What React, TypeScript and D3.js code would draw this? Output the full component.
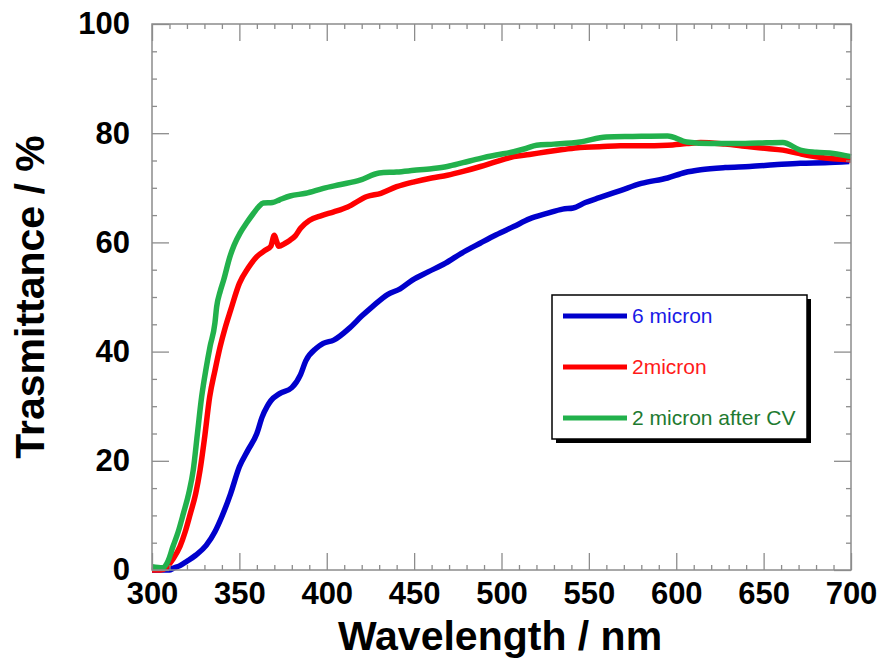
import React, { useRef, useLayoutEffect } from "react";
import * as d3 from "d3";

// wavelength (nm) / transmittance (%)
const wl6 = [300, 305, 310, 312, 316, 320, 325, 331, 336, 340, 345, 350, 355, 360, 363, 366, 368, 373, 380, 385, 388, 394, 398, 404, 413, 420, 426, 435, 442, 449, 458, 468, 477, 488, 497, 507, 516, 526, 535, 541, 548, 556, 568, 580, 595, 605, 614, 628, 642, 656, 671, 685, 699];
const t6 = [0, 0, 0, 0.3, 0.8, 1.6, 2.7, 4.5, 7, 9.8, 14, 18.9, 22, 25, 28, 30, 31, 32.3, 33.4, 35.8, 38.3, 40.6, 41.5, 42.1, 44.3, 46.5, 48.2, 50.5, 51.5, 53.1, 54.6, 56.2, 58, 59.9, 61.4, 62.9, 64.3, 65.3, 66.1, 66.3, 67.3, 68.2, 69.5, 70.8, 71.8, 72.8, 73.3, 73.7, 73.9, 74.2, 74.5, 74.6, 74.8];

const wl2 = [300, 305, 308, 312, 316, 319, 322, 325, 327.5, 330, 333, 336, 339, 342, 345, 350, 355, 360, 365, 368, 370, 371, 372.5, 376, 379, 382, 385, 390, 397, 404, 412, 423, 431, 440, 450, 460, 469, 478, 488, 497, 507, 516, 526, 535, 545, 556, 568, 580, 595, 606, 614, 628, 642, 652, 661, 670, 680, 690, 700];
const t2 = [0, 0, 0.4, 2, 4.3, 7, 10.4, 14, 18.3, 24, 31.7, 36.5, 40.9, 44.5, 47.6, 52.5, 55.3, 57.4, 58.6, 59.3, 61.3, 60.5, 59.3, 59.8, 60.4, 61.2, 62.6, 64, 64.9, 65.6, 66.5, 68.4, 69, 70.2, 71.1, 71.8, 72.3, 73, 73.9, 74.8, 75.7, 76.1, 76.6, 77, 77.4, 77.5, 77.7, 77.7, 77.8, 78.1, 78.3, 78, 77.5, 77.2, 76.9, 76.3, 75.7, 75.3, 75.1];

const wlCV = [300, 306, 309, 312, 315, 318, 321, 323.6, 326, 328.4, 331, 333.2, 336, 337, 339, 341, 344.6, 347, 350.4, 354, 358, 361, 363.7, 369, 373, 379, 388, 398, 408, 419, 430, 440, 450, 460, 469, 478, 488, 497, 507, 514, 520, 530, 545, 560, 575, 595, 606, 620, 633, 647, 661, 671, 680, 690, 700];
const tCV = [0.6, 0.4, 1.5, 4.3, 7, 10.4, 14, 18.3, 25, 31.7, 37, 40.9, 45.2, 48.2, 51, 53.1, 57.4, 59.5, 61.7, 63.5, 65.3, 66.5, 67.2, 67.3, 67.8, 68.5, 69, 69.9, 70.6, 71.4, 72.7, 72.9, 73.2, 73.5, 73.9, 74.6, 75.4, 76, 76.6, 77.2, 77.8, 78, 78.4, 79.3, 79.4, 79.5, 78.4, 78.1, 78.1, 78.2, 78.3, 76.9, 76.5, 76.3, 75.7];

const seriesNames = ["6 micron", "2micron", "2 micron after CV"];
const seriesColors = ["#0000cc", "#ff0000", "#22b14c"];
const textColors = ["#1a1ae6", "#ff1a1a", "#1e7a30"];

const xTicks = [300, 350, 400, 450, 500, 550, 600, 650, 700];
const yTicks = [0, 20, 40, 60, 80, 100];

const W = 877, H = 665;
const left = 152, right = 851, top = 24, bottom = 570;

const App = () => {
  const axesEl = useRef(null);
  const linesEl = useRef(null);
  const legendEl = useRef(null);

  const x = d3.scaleLinear().domain([300, 700]).range([left, right]);
  const y = d3.scaleLinear().domain([0, 100]).range([bottom, top]);

  useLayoutEffect(() => {
    const g = d3.select(axesEl.current);
    g.selectAll("*").remove();
    const gray = "#8c8c8c";
    const minorX = d3.range(300, 701, 10).filter((v) => v % 50 !== 0);
    const minorY = d3.range(0, 101, 5).filter((v) => v % 20 !== 0);

    const styleAxis = (sel) => {
      sel.select(".domain").remove();
      sel.selectAll("line").attr("stroke", gray).attr("stroke-width", 1.3);
      sel.selectAll("text")
        .attr("fill", "#000")
        .attr("font-family", "Liberation Sans, Arial, sans-serif")
        .attr("font-weight", "bold")
        .attr("font-size", 31);
    };

    // bottom
    g.append("g").attr("transform", `translate(0,${bottom})`)
      .call(d3.axisBottom(x).tickValues(xTicks).tickSize(-17).tickPadding(12).tickFormat(d3.format("d")))
      .call(styleAxis);
    g.append("g").attr("transform", `translate(0,${bottom})`)
      .call(d3.axisBottom(x).tickValues(minorX).tickSize(-5).tickFormat(() => ""))
      .call(styleAxis);
    // top
    g.append("g").attr("transform", `translate(0,${top})`)
      .call(d3.axisTop(x).tickValues(xTicks).tickSize(-17).tickFormat(() => ""))
      .call(styleAxis);
    g.append("g").attr("transform", `translate(0,${top})`)
      .call(d3.axisTop(x).tickValues(minorX).tickSize(-5).tickFormat(() => ""))
      .call(styleAxis);
    // left
    g.append("g").attr("transform", `translate(${left},0)`)
      .call(d3.axisLeft(y).tickValues(yTicks).tickSize(-17).tickPadding(22).tickFormat(d3.format("d")))
      .call(styleAxis);
    g.append("g").attr("transform", `translate(${left},0)`)
      .call(d3.axisLeft(y).tickValues(minorY).tickSize(-5).tickFormat(() => ""))
      .call(styleAxis);
    // right
    g.append("g").attr("transform", `translate(${right},0)`)
      .call(d3.axisRight(y).tickValues(yTicks).tickSize(-17).tickFormat(() => ""))
      .call(styleAxis);
    g.append("g").attr("transform", `translate(${right},0)`)
      .call(d3.axisRight(y).tickValues(minorY).tickSize(-5).tickFormat(() => ""))
      .call(styleAxis);

    g.append("rect")
      .attr("x", left).attr("y", top)
      .attr("width", right - left).attr("height", bottom - top)
      .attr("fill", "none").attr("stroke", gray).attr("stroke-width", 1.5);

    // curves
    const lines = d3.select(linesEl.current);
    lines.selectAll("*").remove();
    const line = d3.line().curve(d3.curveMonotoneX).x((d) => x(d[0])).y((d) => y(d[1]));
    const all = [
      d3.zip(wl6, t6),
      d3.zip(wl2, t2),
      d3.zip(wlCV, tCV),
    ];
    lines.selectAll("path.curve")
      .data(all)
      .enter()
      .append("path")
      .attr("class", "curve")
      .attr("fill", "none")
      .attr("stroke", (d, i) => seriesColors[i])
      .attr("stroke-width", 5.5)
      .attr("stroke-linejoin", "round")
      .attr("d", line);

    // legend
    const lg = d3.select(legendEl.current);
    lg.selectAll("*").remove();
    lg.append("rect").attr("x", 556).attr("y", 299).attr("width", 255).attr("height", 144).attr("fill", "#000");
    lg.append("rect").attr("x", 552).attr("y", 295).attr("width", 255).attr("height", 144)
      .attr("fill", "#fff").attr("stroke", "#000").attr("stroke-width", 1.5);
    const rows = lg.selectAll("g.row").data(seriesNames).enter().append("g")
      .attr("class", "row")
      .attr("transform", (d, i) => `translate(0,${316 + i * 51})`);
    rows.append("line")
      .attr("x1", 563).attr("x2", 627)
      .attr("stroke", (d, i) => seriesColors[i])
      .attr("stroke-width", 5);
    rows.append("text")
      .attr("x", 632).attr("dy", "0.35em")
      .attr("font-family", "Liberation Sans, Arial, sans-serif")
      .attr("font-size", 21)
      .attr("fill", (d, i) => textColors[i])
      .text((d) => d);
  }, []);

  return (
    <svg width={W} height={H} style={{ position: "absolute", left: 0, top: 0, background: "#fff" }}>
      <g ref={linesEl} />
      <g ref={axesEl} />
      <g ref={legendEl} />
      <text x={500} y={650} textAnchor="middle" fontFamily="Liberation Sans, Arial, sans-serif"
        fontWeight="bold" fontSize={41}>Wavelength / nm</text>
      <text transform={`translate(44,297) rotate(-90)`} textAnchor="middle"
        fontFamily="Liberation Sans, Arial, sans-serif" fontWeight="bold" fontSize={41}>Trasmittance / %</text>
    </svg>
  );
};

export default App;
